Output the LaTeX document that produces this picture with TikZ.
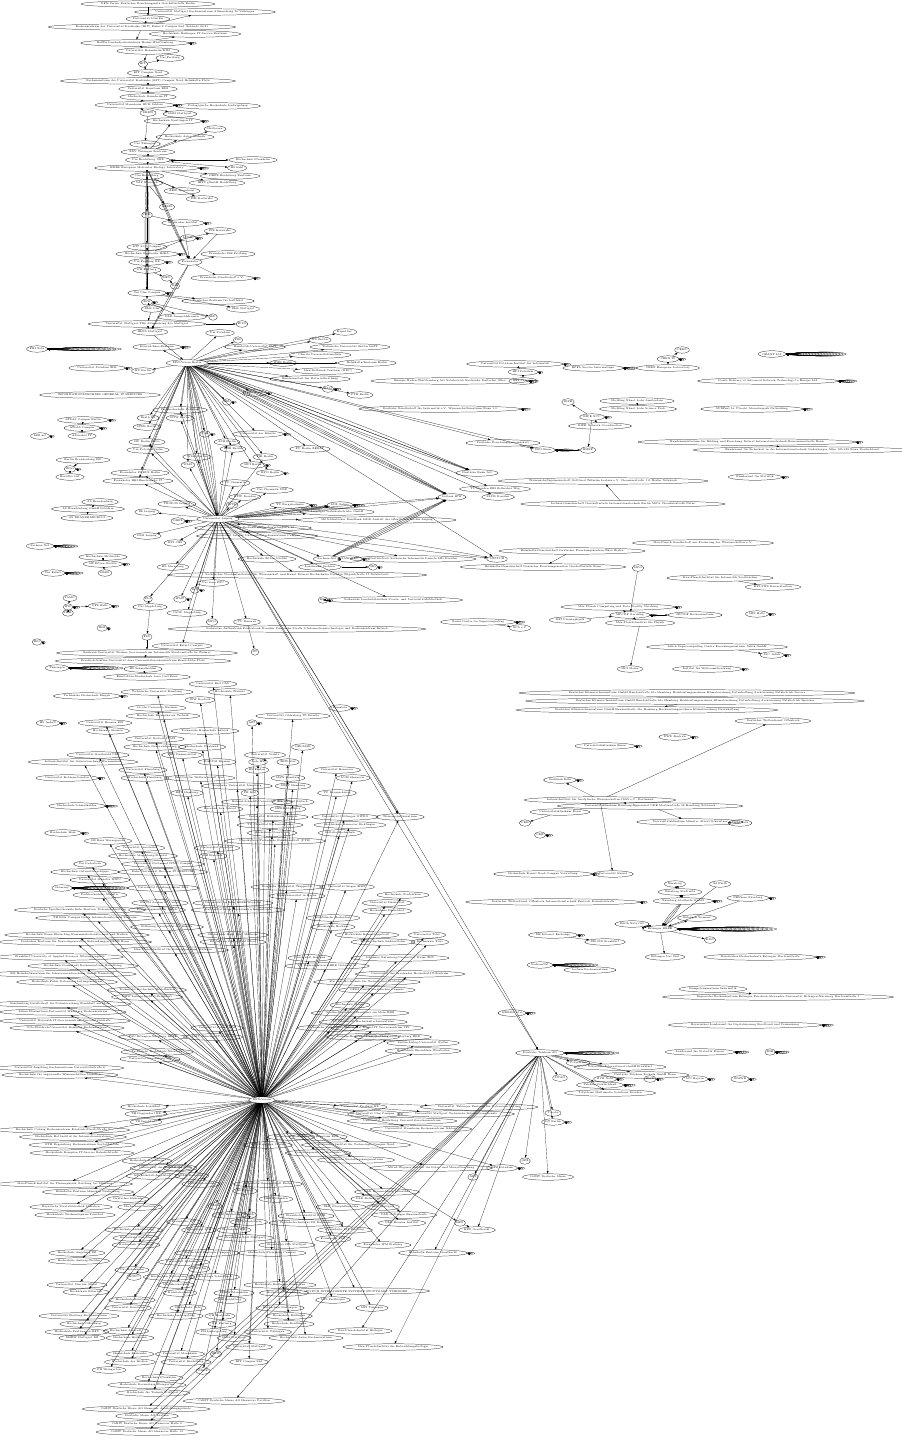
\documentclass[tikz,border=0pt]{standalone}
\usepackage{fontspec}
\usetikzlibrary{shapes.geometric,arrows.meta}
\tikzset{
  org/.style={draw, ellipse, line width=0.2pt, inner xsep=0.2pt, inner ysep=0.3pt,
    minimum height=5.5pt, font=\fontsize{2.2}{2.5}\selectfont},
  link/.style={-{Latex[length=2.2pt,width=1.5pt]}, line width=0.16pt},
}
% stack of self loops on the east side of a node
\newcommand{\selfloops}[3]{\foreach \k in {1,...,#2}{
  \draw[link] (#1.east) .. controls +(#3*\k,-2-0.25*\k) and +(#3*\k,2+0.25*\k) .. (#1.east);}}
% several parallel edges
\newcommand{\multilink}[3]{\foreach \b in {#3}{\draw[link] (#1) to[bend left=\b] (#2);}}
\begin{document}
\begin{tikzpicture}[x=0.03cm,y=-0.03cm]
\useasboundingbox (0,0) rectangle (901,1440);
\fill[white] (0,0) rectangle (901,1440);

% top column
\foreach \n/\x/\y/\t in {
  t1/148/4/{DFN-Verein Deutsches Forschungsnetz Geschäftsstelle Berlin},
  t2/205/12/{Universität Stuttgart Rechenzentrum Allmandring 30 Vaihingen},
  t3/148/19/{Universität Ulm kiz},
  t4/142/27/{Rechenzentrum der Universität Karlsruhe (KIT) Zirkel 2 Campus Süd Gebäude 20.21},
  t5/195/34/{Hochschule Esslingen IT-Service Zentrum},
  t6/135/43/{BelWü Landeshochschulnetz Baden-Württemberg},
  t7/148/51/{Universität Hohenheim KIM},
  t8/170/58/{Uni Freiburg},
  t9/143/64/{HfT},
  t10/148/73/{KIT Campus Nord},
  t11/148/81/{Rechenzentrum der Universität Karlsruhe (KIT) Campus Nord Helmholtz-Platz},
  t12/148/89/{Universität Konstanz KIM},
  t13/148/97/{Hochschule Mannheim IT},
  t14/135/105/{Universität Mannheim RUM Schloss},
  t15/148/113/{DHBW},
  t16/180/114/{HdM Stuttgart},
  t17/218/106/{Pädagogische Hochschule Ludwigsburg},
  u1/173/121/{Hochschule Reutlingen IT},
  u2/215/129/{Heilbronn},
  u3/185/137/{Hochschule Aalen Technik},
  u4/145/144/{Uni Tübingen},
  u5/148/152/{ZDV Tübingen Zentrum},
  u6/148/160/{Uni Heidelberg URZ},
  u7/253/160/{Hochschule Pforzheim},
  u8/237/168/{HS Kehl},
  u9/147/168/{EMBL European Molecular Biology Laboratory},
  u10/230/176/{DKFZ Heidelberg Zentrum},
  u11/217/183/{HITS gGmbH Heidelberg},
  u12/147/176/{Uni Heidelberg},
  u13/147/183/{SAP Research},
  u14/182/191/{ZEW Mannheim},
  u15/202/199/{FZI Karlsruhe},
  u16/167/207/{GESIS},
  u17/147/215/{IWR},
  u18/183/223/{Karlsruher Institut},
  u19/188/238/{LUBW},
  u20/220/231/{FIZ Karlsruhe},
  u21/147/247/{KIT SCC Campus},
  u22/147/254/{Hochschule Karlsruhe HsKA},
  u23/147/262/{Uni Freiburg RZ},
  u24/147/270/{PH Freiburg},
  u25/190/262/{Fraunhofer},
  u26/228/254/{Fraunhofer ISE Freiburg},
  u27/167/278/{HFU},
  u28/175/286/{KIZ},
  u29/222/278/{Fraunhofer-Gesellschaft e.V.},
  u30/147/293/{Uni Ulm Campus},
  u31/147/302/{ZSW},
  u32/152/309/{DLR Ulm},
  u33/218/301/{Deutsches Zentrum für Luftfahrt},
  u34/243/309/{DLR Stuttgart},
  u35/213/317/{ZfP},
  u36/182/317/{DLR Lampoldshausen},
  u37/147/324/{Universität Stuttgart TIK Allmandring 30a Stuttgart},
  u38/345/332/{Rapid Inc.},
  u39/150/332/{HLRS Stuttgart},
  u40/242/324/{IPVS}}
  \node[org] (\n) at (\x,\y) {\t};

\foreach \a/\b in {t1/t3,t3/t4,t4/t6,t6/t7,t7/t9,t9/t10,t10/t11,t11/t12,t12/t13,t13/t14,
  t14/t15,t15/u4,u4/u5,u5/u6,u6/u9,u9/u12,u12/u13,u13/u17,u17/u21,u21/u22,u22/u23,u23/u24,
  u24/u30,u30/u31,u31/u32,u32/u37,u37/u39,t4/t2,t6/t5,t9/t8,t14/t16,t14/t17,u5/u1,u5/u2,
  u5/u3,u6/u7,u6/u8,u9/u10,u9/u11,u12/u14,u12/u15,u13/u16,u17/u18,u21/u20,u22/u19,u25/u26,
  u25/u29,u24/u27,u27/u28,u30/u33,u30/u34,u31/u35,u31/u36,u37/u40,u18/u25,u20/u25}
  \draw[link] (\a) -- (\b);
\multilink{u9}{u30}{-3,-1.5,1.5,3}
\multilink{u9}{u25}{-2,0,2}
\multilink{u25}{u39}{-2,2}

% first hub
\node[org] (hubA) at (187,363) {DFN-Verein Berlin};
\draw[link] (u39) -- (hubA);
\foreach \n/\x/\y/\t in {
  a1/220/333/{Uni Potsdam}, a2/238/340/{PIK}, a3/255/347/{Humboldt-Universität CMS},
  a4/320/340/{FU Berlin}, a6/350/347/{Technische Universität Berlin tubIT},
  a7/320/355/{Charité Universitätsmedizin}, a8/283/363/{WZB Berlin},
  a9/367/363/{Helmholtz-Zentrum Berlin}, a10/328/371/{Max-Delbrück-Centrum (MDC)},
  a11/310/379/{Bundesanstalt für Materialforschung}, a12/328/389/{BAM},
  a13/360/395/{PTB Berlin}, a14/157/347/{Konrad-Zuse-Zentrum}, a17/143/371/{HU Berlin},
  a19/227/402/{ZIB}, a20/255/393/{ZIB Berlin}, a21/180/410/{Fachhochschule Potsdam},
  a22/180/418/{HTW Berlin}, a23/148/418/{Beuth HS}, a24/147/427/{HWR Berlin},
  a25/258/434/{Universität der Künste}, a26/205/434/{UdK}, a27/227/442/{ASH Berlin},
  a28/233/449/{EHB Berlin}, a29/310/449/{FU Berlin ZEDAT}, a30/147/442/{HU Berlin Mitte},
  a31/148/450/{Uni Potsdam Golm}, a32/265/457/{FHI Berlin}, a33/253/465/{MPI Berlin},
  a34/270/473/{MPG Berlin}, a35/197/457/{WIAS Berlin}, a36/188/465/{WIAS},
  a37/140/473/{Fraunhofer FOKUS Berlin}, a38/138/481/{Fraunhofer HHI Einsteinufer 37},
  a41/477/473/{Deutsche Bahn AG}, a42/495/489/{TU Dresden ZIH Zellescher Weg},
  a43/498/497/{SLUB Dresden}, a44/452/497/{Leibniz IFW}}{
  \node[org] (\n) at (\x,\y) {\t};
  \draw[link] (hubA) -- (\n);}
\draw[link] (hubA) -- (u38);
\multilink{hubA}{a41}{-2,0,2}
\multilink{hubA}{a44}{-3,-1,1,3}

% second hub
\node[org] (hubB) at (218,519) {Universität Leipzig};
\multilink{hubA}{hubB}{-8,-5,-2,2,5,8}
\foreach \n in {a21,a22,a27,a28,a30,a31,a32,a35,a36,a37,a38}
  \draw[link] (hubB) -- (\n);
\foreach \n/\x/\y/\t in {
  b10/147/512/{IfL Leipzig}, b11/177/504/{TROPOS Leipzig}, b12/178/521/{DBFZ},
  b13/147/536/{IOM Leipzig}, b14/175/543/{MPI CBS}, b20/173/567/{HS Merseburg},
  b21/213/583/{Uni Jena FSU}, b22/195/590/{IPB}, b23/180/599/{IPHT}, b24/148/599/{FLI},
  b26/187/613/{OvGU Magdeburg}, b34/212/622/{MPG}, b35/247/622/{TU Ilmenau},
  b38/182/646/{Universität Erfurt Campus},
  b46/253/528/{Universität Leipzig Rechenzentrum Augustusplatz 10},
  b47/257/536/{Universität Leipzig Universitätsrechenzentrum Campus},
  b48/340/505/{LVZ Online}, b49/337/512/{Leipziger Verkehrsbetriebe GmbH},
  b50/377/520/{Mitteldeutscher Rundfunk MDR Anstalt des öffentlichen Rechts Leipzig},
  b51/327/559/{Sachsen-Net}, b53/413/559/{Staatsbetrieb Sächsische Informatik Dienste SID Dresden},
  b54/320/567/{Landesamt Sachsen}, b56/267/559/{Hochschule Zittau Görlitz},
  b59/393/600/{Sächsische Landesbibliothek Staats- und Universitätsbibliothek},
  b61/297/575/{Sächsisches Staatsministerium für Wissenschaft und Kunst Referat Hochschulen Dresden Wigardstraße 17 Netzbetrieb},
  b64/235/483/{TU Chemnitz}, b65/272/490/{Uni Chemnitz URZ}, b66/245/497/{HTW Dresden},
  b67/290/505/{TU Bergakademie}, b68/232/505/{HfTL}}{
  \node[org] (\n) at (\x,\y) {\t};
  \draw[link] (hubB) -- (\n);}
\foreach \n/\x/\y/\t in {
  b25/150/607/{Uni Magdeburg}, b33/147/637/{FSU},
  b36/147/653/{Bauhaus-Universität Weimar Servicezentrum Informatik Steubenstraße 6a Weimar},
  b37/143/661/{Friedrich-Schiller-Universität Jena Universitätsrechenzentrum Ernst-Abbe-Platz},
  b40/143/669/{HS Schmalkalden}, b41/147/677/{Ernst-Abbe-Hochschule Jena Carl-Zeiss},
  b42/255/652/{IfT}, b52/350/559/{SAXONET}, b55/373/567/{SID}, b58/323/600/{KSS},
  b60/297/629/{Sächsische Aufbaubank Förderbank Dresden Pirnaische Straße 9 Informationstechnologie und Rechenzentrum Betrieb}}
  \node[org] (\n) at (\x,\y) {\t};
\foreach \a/\b in {b24/b25,b25/b33,b33/b36,b36/b37,b40/b41,b51/b52,b54/b55,b58/b59,b35/b42}
  \draw[link] (\a) -- (\b);
\multilink{b51}{a44}{-3,-1,1,3}
\multilink{hubB}{a44}{-1,1}

% small groups on the left
\foreach \n/\x/\y/\t in {
  a15/37/349/{FBI Netz}, a16/97/368/{Universität Potsdam ZIM},
  a18/100/395/{INFORMATIONSTECHNIK GENERAL IT SERVICES},
  k1/83/420/{ATLAS Campus Berlin}, k2/82/428/{ATLAS Campus}, k3/82/436/{Adlershof IT},
  k4/40/436/{LRZ net}, k5/83/460/{Berlin Brandenburg ISP}, k6/70/469/{BNet},
  k7/70/477/{BerliNet Ost}, k8/100/502/{AS Brandenburg}, k9/88/509/{AS Brandenburg GmbH Potsdam},
  k10/87/518/{AS BRANDENBURG-2}, k11/40/546/{Sachsen Net}, k12/103/557/{Hochschule Mittweida},
  k13/103/564/{HS Zittau-Görlitz}, k14/105/573/{HSZG}, k15/53/573/{Uni Erfurt},
  k16/70/598/{IAMO}, k17/68/607/{IPK}, k18/100/606/{UFZ Halle}, k19/68/613/{IWH},
  k20/102/628/{HfM}, k21/37/642/{HfG}, k22/57/668/{Thüringen},
  k23/87/696/{Technische Hochschule Bingen}, k24/48/723/{HS Anhalt},
  k25/67/778/{Universität Koblenz-Landau}, k26/77/806/{Hochschule Schmalkalden},
  k27/63/833/{Hochschule Harz}, k28/62/888/{Germany}, k29/340/708/{Ramstein}}
  \node[org] (\n) at (\x,\y) {\t};
\foreach \a/\b in {k1/k2,k2/k3,k5/k6,k6/k7,k9/k8,k9/k10,k12/k13,k13/k14,k16/k17,k17/k19,k17/k18}
  \draw[link] (\a) -- (\b);

% right upper groups
\foreach \n/\x/\y/\t in {
  s1/515/364/{Universität Potsdam Institut für Informatik}, s2/523/372/{HPI Potsdam},
  s3/523/381/{HPI Campus}, s4/593/368/{EPFL Service Informatique},
  s5/682/350/{CERN}, s6/668/359/{CERN IT}, s7/668/368/{CERN European Laboratory},
  s8/772/354/{GÉANT Ltd},
  s9/768/381/{Dante Delivery of Advanced Network Technology to Europe Ltd},
  s10/450/381/{Energie Baden-Württemberg AG Netzbetrieb Karlsruhe Durlacher Allee},
  s11/568/402/{RIPE}, s12/592/417/{RIPE NCC}, s13/600/426/{RIPE Network Coordination},
  s14/637/401/{Stichting NLnet Labs Amsterdam}, s15/638/409/{Stichting NLnet Labs Science Park},
  s16/752/409/{SURFnet bv Utrecht Moreelsepark Networking},
  s17/440/409/{Deutsche Gesellschaft für Informatik e.V. Wissenschaftszentrum Bonn 1.0},
  s18/503/443/{Deutsche Forschungsgemeinschaft}, s19/543/450/{DFG Bonn}, s20/588/450/{BMBF},
  s21/747/442/{Bundesministerium für Bildung und Forschung Referat Informationstechnik Heinemannstraße Bonn},
  s22/802/450/{Bundesamt für Sicherheit in der Informationstechnik Godesberger Allee 185-189 Bonn Deutschland},
  s23/755/477/{Bundesamt für Statistik},
  s25/603/481/{Wissenschaftsgemeinschaft Gottfried Wilhelm Leibniz e.V. Chausseestraße 111 Berlin Netzwerk},
  s26/623/504/{Leibniz-Gemeinschaft Geschäftsstelle Informationstechnik Berlin Mitte Chausseestraße Netze},
  s29/572/551/{Helmholtz-Gemeinschaft Deutscher Forschungszentren Büro Berlin},
  s30/543/567/{Helmholtz-Gemeinschaft Deutscher Forschungszentren Geschäftsstelle Bonn},
  s31/703/543/{Max-Planck-Gesellschaft zur Förderung der Wissenschaften e.V.},
  s32/497/559/{SWITCH}, s33/638/568/{MPG},
  s34/720/578/{Max-Planck-Institut für Informatik Saarbrücken}, s35/773/587/{MPI-SWS Kaiserslautern},
  s36/618/607/{Max Planck Computing and Data Facility Garching}, s37/630/615/{MPCDF Garching},
  s38/695/615/{MPCDF Rechenzentrum}, s39/570/620/{MPI Plasmaphysik},
  s40/640/623/{Max-Planck-Institut für Physik}, s41/757/614/{MPI Halle},
  s42/478/622/{Gauss Centre for Supercomputing}, s43/520/628/{GCS e.V.},
  v1/717/647/{Jülich Supercomputing Centre Forschungszentrum Jülich GmbH},
  v2/772/655/{JSC Jülich}, v3/630/669/{MPI Mainz}, v4/707/669/{Institut für Weltraumforschung},
  v5/687/693/{Deutsches Klimarechenzentrum GmbH Bundesstraße 45a Hamburg Hochleistungsrechnen Klimaforschung Datenhaltung Archivierung Netzbetrieb Service},
  v6/695/701/{Deutsches Klimarechenzentrum GmbH Bundesstraße 45a Hamburg Hochleistungsrechnen Klimaforschung Datenhaltung Archivierung Netzbetrieb Speicher},
  v7/647/710/{Deutsches Klimarechenzentrum GmbH Bundesstraße 45a Hamburg Hochleistungsrechnen Klimaforschung Datenhaltung},
  v8/773/721/{Deutscher Wetterdienst Offenbach}, v9/675/737/{DWD Zentrale},
  v10/605/746/{Universitätsklinikum Essen},
  w1/600/800/{Leibniz-Institut für Analytische Wissenschaften ISAS e.V. Dortmund},
  w2/560/780/{Uniklinik Köln}, w3/650/806/{Universitätsklinikum Hamburg-Eppendorf UKE Martinistraße 52 Hamburg Netzwerk},
  w4/560/812/{Universitätsklinikum Bonn}, w5/525/823/{UKB}, w6/690/822/{Universitätsklinikum Münster Albert-Schweitzer},
  w7/740/823/{UKM Netz}, w8/540/835/{UKE},
  x0/543/874/{Hochschule Kassel Nord Campus Verwaltung}, x1/613/874/{Universität Kassel},
  x2/553/902/{Deutscher Wetterdienst Offenbach Informationstechnik Zentrale Kaiserleistraße},
  x3/553/935/{DE Internet Exchange}, x4/605/942/{DE-CIX Frankfurt},
  x5/540/965/{SachsenNet}, x6/590/970/{Leibniz Rechenzentrum}, e8/512/1013/{KRRDN Ltd}}
  \node[org] (\n) at (\x,\y) {\t};
\foreach \a/\b in {s1/s2,s2/s3,s6/s5,s6/s7,s12/s11,s12/s13,s12/s20,s14/s15,s18/s19,s19/s20,
  s21/s22,s26/s25,s29/s30,s33/s37,s37/s38,s37/s40,s39/s37,s42/s43,s34/s35,s40/v3,v1/v2,v6/v7,
  w1/v8,w1/w2,w1/w3,w3/w6,w6/w7,w4/w5,w1/x1,x3/x4,s37/s36}
  \draw[link] (\a) -- (\b);
\foreach \n in {s18,s19,s32} \draw[link] (hubA) -- (\n);
\multilink{hubB}{s32}{-2,2}
\multilink{hubB}{b48}{-3,-1,1,3}

% third hub with its fan
\node[org] (hubC) at (262,1100) {DFN-Verein};
\foreach \n/\x/\y/\t in {
  c1/157/692/{Technische Universität Hamburg}, c2/213/684/{Universität Kiel CAU},
  c3/230/692/{Hochschule Wismar}, c4/200/700/{IOW Rostock}, c5/105/723/{Universität Bremen ZfN},
  c6/108/731/{Hochschule Bremen}, c7/157/708/{Jacobs University Bremen},
  c8/163/716/{Hochschule Bremerhaven Technik}, c9/293/716/{Universität Oldenburg IT-Dienste},
  c10/205/731/{Technische Hochschule Lübeck}, c11/252/723/{AWI},
  c12/98/755/{Universität Greifswald URZ}, c13/83/762/{Leibniz-Institut für Ostseeforschung Warnemünde},
  c14/155/739/{Universität Rostock ITMZ}, c15/155/747/{Hochschule Neubrandenburg},
  c16/202/747/{Hochschule Stralsund}, c17/182/755/{FBN Dummerstorf}, c18/217/762/{MARUM Bremen},
  c19/265/755/{Universität Vechta}, c20/258/762/{Jade HS}, c21/257/770/{HS Emden},
  c22/303/747/{GEOMAR}, c23/288/762/{ZBW Kiel}, c24/143/770/{Universität Flensburg},
  c25/145/778/{Hochschule Flensburg}, c26/200/778/{Institut für Weltwirtschaft Kiel},
  c27/237/786/{Leuphana Universität Lüneburg}, c28/288/778/{HAW Hamburg}, c29/293/786/{DESY Hamburg},
  c30/187/793/{HCU Hamburg}, c31/250/793/{FH Kiel}, c32/257/802/{Helmut-Schmidt-Universität HH},
  c33/293/802/{Universität Lübeck}, c34/220/809/{Bucerius Law School}, c35/288/809/{HFBK Hamburg},
  c36/337/770/{Universität Hannover}, c37/353/778/{LUIS Hannover}, c38/337/793/{TU Braunschweig},
  c39/345/817/{Universität Göttingen GWDG}, c40/350/825/{Hochschule Hannover Ricklingen},
  c41/340/833/{Ostfalia Hochschule}, c42/400/817/{Wissenschaftszentrum},
  c43/273/817/{Universität Hildesheim Campus}, c44/270/825/{TU Clausthal Rechenzentrum},
  c45/272/833/{Hochschule Osnabrück}, c46/275/841/{Physikalisch-Technische Bundesanstalt (PTB)},
  c47/108/841/{HS Harz Wernigerode}, c48/140/848/{Universität Osnabrück},
  c49/143/856/{Hochschule Magdeburg-Stendal}, c50/217/848/{Universität Bielefeld},
  c51/213/856/{FH Bielefeld}, c52/90/864/{Uni Paderborn}, c53/85/872/{Hochschule Ostwestfalen-Lippe},
  c54/100/880/{Universität Münster WWU}, c55/100/895/{Fachhochschule Münster},
  c56/163/864/{Universität Dortmund ITMC Campus}, c57/163/872/{Ruhr-Universität Bochum IT.SERVICES},
  c58/163/888/{Universität Duisburg-Essen ZIM}, c59/233/903/{Universität zu Köln RRZK Weyertal},
  c60/238/910/{Universität Bonn Hochschulrechenzentrum}, c61/160/903/{RWTH Aachen IT Center},
  c62/157/910/{Forschungszentrum Jülich}, c63/287/887/{Bergische Universität Wuppertal},
  c64/297/896/{FernUniversität in Hagen}, c65/347/887/{Universität Siegen ZIMT},
  c66/403/895/{Hochschule Niederrhein}, c67/387/903/{Universität Düsseldorf},
  c68/387/911/{Hochschule Düsseldorf}, c69/333/918/{Westfälische Hochschule},
  c70/333/927/{Hochschule Bochum},
  c71/80/910/{Deutsche Sporthochschule Köln Zentrale Datenverarbeitung},
  c72/95/918/{TH Köln Campus Deutz Informationstechnik Zentrum},
  c73/77/935/{Hochschule Bonn-Rhein-Sieg Kommunikationstechnik und Medien},
  c74/75/942/{Deutsches Zentrum für Neurodegenerative Erkrankungen DZNE Bonn},
  c75/167/927/{Folkwang Universität der Künste}, c76/233/935/{Hochschule Ruhr West Mülheim},
  c77/233/942/{Hochschule Rhein-Waal Kleve}, c78/173/950/{Max-Planck-Institut für Kohlenforschung Mülheim},
  c79/367/935/{Hochschule Hamm-Lippstadt}, c80/383/942/{Fachhochschule Südwestfalen},
  c81/427/935/{Universität Trier}, c82/430/942/{Hochschule Trier}, c83/310/958/{Universität Koblenz},
  c84/327/966/{TU Kaiserslautern RHRK Gebäude 32}, c85/400/958/{Johannes Gutenberg-Universität Mainz ZDV},
  c86/410/974/{Universität des Saarlandes Hochschul-IT-Zentrum},
  c87/367/982/{htw saar Hochschule für Technik und Wirtschaft}, c88/377/990/{DFKI GmbH Saarbrücken Campus},
  c89/350/1005/{Hochschule Mainz}, c90/360/1013/{Goethe-Universität Frankfurt am Main HRZ},
  c91/363/1022/{TU Darmstadt Hochschulrechenzentrum}, c92/377/1028/{Universität Kassel IT Servicezentrum ITS},
  c93/393/1037/{Philipps-Universität Marburg HRZ}, c94/423/1043/{Justus-Liebig-Universität Gießen},
  c95/423/1051/{Hochschule RheinMain Wiesbaden},
  c96/60/957/{Frankfurt University of Applied Sciences Nibelungenplatz},
  c97/83/966/{Hochschule Darmstadt Rechenzentrum Haardtring},
  c98/62/974/{GSI Helmholtzzentrum für Schwerionenforschung GmbH Darmstadt},
  c99/67/982/{Hochschule Fulda Datenverarbeitungszentrum},
  c100/147/990/{Technische Hochschule Mittelhessen}, c101/147/997/{DIPF Leibniz-Institut Frankfurt},
  c102/60/1004/{Senckenberg Gesellschaft für Naturforschung Frankfurt am Main},
  c103/63/1012/{Julius-Maximilians-Universität Würzburg Rechenzentrum},
  c104/65/1021/{Universität Bayreuth IT-Servicezentrum Universitätsstraße},
  c105/67/1028/{Otto-Friedrich-Universität Bamberg Rechenzentrum},
  c106/153/1037/{FAU Erlangen-Nürnberg RRZE}, c107/157/1052/{Technische Hochschule Nürnberg},
  c108/150/1059/{Universität Regensburg RZ}, c109/217/1028/{Universität Passau ZIM},
  c110/213/1037/{LMU München IT-Services}, c111/333/1028/{Technische Universität München},
  c112/363/1037/{Leibniz-Rechenzentrum Garching},
  c113/60/1068/{Universität Augsburg Rechenzentrum Universitätsstraße 8},
  c114/60/1075/{Hochschule für angewandte Wissenschaften München}}{
  \node[org] (\n) at (\x,\y) {\t};
  \draw[link] (hubC) -- (\n);}
\foreach \n/\x/\y/\t in {
  d1/63/1130/{Hochschule Coburg Rechenzentrum Friedrich-Streib-Straße 2},
  d2/73/1137/{Hochschule Hof Institut für Informationssysteme},
  d3/82/1145/{OTH Regensburg Rechenzentrum Seybothstraße},
  d4/82/1153/{Hochschule Kempten IT-Service Bahnhofstraße},
  d5/144/1107/{Hochschule Landshut}, d6/146/1114/{TH Deggendorf RZ}, d7/146/1122/{TH Ingolstadt},
  d8/147/1161/{Hochschule Rosenheim}, d9/161/1168/{Universität der Bundeswehr},
  d10/153/1176/{KU Eichstätt-Ingolstadt},
  d11/65/1184/{Max-Planck-Institut für Plasmaphysik Garching bei München},
  d12/88/1192/{Helmholtz Zentrum München Neuherberg}, d13/128/1199/{Deutsches Museum},
  d14/71/1207/{Bayerische Staatsbibliothek München}, d15/75/1215/{Hochschule Weihenstephan-Triesdorf},
  d16/140/1207/{Hochschule Ansbach}, d17/134/1230/{Hochschule Aschaffenburg},
  d18/136/1238/{Hochschule Neu-Ulm}, d19/136/1245/{Hochschule Würzburg},
  d20/77/1253/{Hochschule Augsburg RZ}, d21/79/1261/{Hochschule Amberg-Weiden},
  d22/132/1270/{Uni Hohenheim}, d23/134/1277/{HfWU}, d24/77/1285/{Universität Ulm kiz Albert},
  d25/86/1292/{Hochschule Biberach}, d26/79/1316/{Universität Freiburg Rechenzentrum},
  d27/84/1324/{Hochschule Offenburg}, d28/77/1332/{Hochschule Furtwangen HFU},
  d29/82/1338/{DHBW Stuttgart RZ}, d30/132/1300/{Hochschule Konstanz},
  d31/128/1308/{Universität Konstanz}, d32/126/1331/{Hochschule Albstadt},
  d33/130/1338/{Hochschule Heilbronn}, d34/130/1354/{Hochschule Karlsruhe},
  d35/130/1362/{Hochschule der Medien}, d36/109/1370/{PH Weingarten},
  d37/159/1378/{Hochschule Pforzheim}, d38/147/1385/{Hochschule Ravensburg-Weingarten},
  d39/153/1393/{Hochschule für Technik Stuttgart}, d45/180/1354/{Universität Mannheim},
  d46/186/1362/{Universität Heidelberg}, d47/216/1354/{ZEW}, d48/203/1371/{DKFZ},
  d49/249/1362/{KIT Campus Süd}, d50/234/1338/{HdM Stuttgart}, d51/249/1347/{Universität Stuttgart},
  d52/268/1332/{Universität Tübingen}, d53/289/1324/{Hochschule Reutlingen},
  d54/289/1316/{Hochschule Esslingen}, d55/280/1308/{Hochschule Nürtingen},
  d56/306/1338/{Hochschule Aalen Rechenzentrum}, d57/280/1285/{Hochschule Heilbronn Künzelsau},
  d58/284/1293/{Hochschule Mannheim}, d59/234/1293/{DHBW Mannheim}, d60/230/1300/{PH Heidelberg},
  d61/220/1316/{PH Karlsruhe}, d62/222/1324/{PH Freiburg}, d63/214/1332/{PH Ludwigsburg},
  d64/188/1308/{Hochschule Kehl}, d65/176/1316/{Hochschule Ludwigsburg}, d66/176/1285/{Musikhochschule},
  d67/180/1293/{Kunstakademie}, d68/169/1277/{Hochschule Rottenburg}, d69/214/1277/{Hochschule Schwäbisch},
  d70/199/1269/{ZSW Ulm}, d71/184/1262/{Universität Hohenheim}, d72/207/1253/{Hochschule Biberach Campus},
  d73/272/1253/{Hochschule Pforzheim Campus}, d74/287/1245/{Fraunhofer IPA Stuttgart},
  d75/245/1238/{Fraunhofer IAO Stuttgart}, d76/234/1230/{Fraunhofer IBP}, d77/199/1230/{Fraunhofer IGB},
  d78/184/1222/{Fraunhofer ICT}, d79/306/1216/{Fraunhofer-Institut IOSB},
  d80/306/1223/{Fraunhofer-Institut ISI Karlsruhe}, d81/345/1230/{Fraunhofer IAF Freiburg},
  d82/333/1239/{Fraunhofer EMI}, d83/383/1245/{Fraunhofer IPM Freiburg},
  d84/356/1291/{MPI FÜR INTELLIGENTE SYSTEME STUTTGART TÜBINGEN}, d85/333/1300/{MPI Festkörper},
  d86/372/1308/{MPI Tübingen}, d89/341/1207/{DLR Oberpfaffenhofen},
  d90/387/1192/{DLR Braunschweig Lilienthal}, d91/368/1199/{DLR Köln-Porz},
  d92/404/1215/{DLR Göttingen Bunsenstraße}, d93/402/1223/{DLR Bremen Institut},
  d94/268/1184/{Helmholtz-Gemeinschaft Berlin}, d95/245/1191/{HGF Bonn}, d96/276/1199/{HZDR Dresden},
  d97/431/1168/{Alfred-Wegener-Institut für Polar- und Meeresforschung},
  d100/502/1168/{GFZ Potsdam}, d103/460/1223/{HZG},
  d106/318/1153/{Forschungszentrum Karlsruhe},
  d107/356/1145/{Karlsruher Institut für Technologie Campus Nord},
  d108/356/1160/{Deutsches Krebsforschungszentrum},
  d109/402/1121/{Universität Heidelberg Universitätsrechenzentrum},
  d110/421/1129/{Universität Mannheim Rechenzentrum Schloss},
  d111/456/1114/{Universität Stuttgart Technische Informationsdienste},
  d112/479/1107/{Universität Tübingen Zentrum für Datenverarbeitung},
  d115/360/1107/{Universität Freiburg RZ}, d116/375/1114/{Universität Ulm Campus},
  d117/318/1137/{Universität Konstanz KIM}, d118/268/1145/{KIT Steinbuch Centre},
  d119/291/1137/{Hochschule Karlsruhe}, d120/383/1207/{DLR Stuttgart}, d121/201/1184/{LUBW Karlsruhe},
  d122/192/1176/{BLB Karlsruhe}, d123/180/1168/{WLB Stuttgart}, d124/215/1206/{HLRS},
  d125/230/1215/{IWR Heidelberg}, d126/249/1215/{EMBL}, d127/249/1222/{HITS Heidelberg}}{
  \node[org] (\n) at (\x,\y) {\t};
  \draw[link] (hubC) -- (\n);}

% fourth hub
\node[org] (hubD) at (540,1053) {Deutsche Telekom AG};
\multilink{hubB}{hubD}{-1,1}
\multilink{hubB}{c42}{-1,1}
\foreach \n/\x/\y/\t in {
  d40/146/1409/{CeBIT Deutsche Messe AG Hannover Ausstellungsgelände},
  d41/147/1416/{Deutsche Messe AG Laatzen}, d42/147/1424/{CeBIT Deutsche Messe AG Hannover Halle 9},
  d43/147/1432/{CeBIT Deutsche Messe AG Hannover Halle 13},
  d44/234/1401/{CeBIT Deutsche Messe AG Hannover Pavillon},
  d87/360/1331/{Max-Planck-Institut Biologie},
  d88/393/1347/{Max-Planck-Institut für Entwicklungsbiologie},
  d99/525/1161/{GFZ}, d101/473/1177/{AWI}, d102/548/1177/{CeBIT Deutsche Messe},
  d104/477/1230/{HZG Geesthacht}, d105/433/1253/{Helmholtz-Zentrum Geesthacht},
  e2/578/1063/{T-Systems}, e3/620/1067/{T-Systems International GmbH Frankfurt},
  e4/645/1075/{Deutsche Telekom Technik GmbH Bonn}, e5/560/1078/{DTAG},
  e6/600/1085/{Telekom Deutschland}, e7/610/1093/{T-Systems Multimedia Solutions Dresden},
  e9/553/1113/{T-Labs}, e10/553/1122/{DT Berlin}}{
  \node[org] (\n) at (\x,\y) {\t};
  \draw[link] (hubD) -- (\n);}
\draw[link] (d103) -- (d104);

% fifth hub and right side
\node[org] (hubE) at (660,929) {Erlangen RRZE};
\foreach \n/\x/\y/\t in {
  y1/675/884/{Nürnberg}, y2/720/884/{Ad Fürth}, y3/680/892/{Nürnberg Stadtnetz},
  y4/683/901/{Nürnberg Stadtnetz GmbH}, y5/748/898/{NEFkom Nürnberg}, y6/632/924/{Fürth Netz Ost},
  y7/697/918/{Erlangen Siemens}, y8/710/940/{KDN}, y10/665/957/{Erlangen Uni Süd},
  y11/760/957/{Bayerisches Hochschulnetz Erlangen Martensstraße},
  z1/713/989/{Kompetenzzentrum Informatik},
  z2/778/997/{Regionales Rechenzentrum Erlangen Friedrich-Alexander-Universität Erlangen-Nürnberg Martensstraße 1},
  z3/745/1025/{Bayerisches Landesamt für Digitalisierung Breitband und Vermessung},
  z4/700/1052/{Landesamt für Statistik Bayern}, z5/770/1052/{BSB},
  z6/605/1079/{BVB Netz}, z7/650/1079/{BLfD}, z8/695/1079/{LfU Bayern}, z9/740/1079/{StMWK}}
  \node[org] (\n) at (\x,\y) {\t};
\foreach \a/\b in {y2/hubE,y5/hubE,hubE/y7,hubE/y8,hubE/y10,z1/z2}
  \draw[link] (\a) -- (\b);
\multilink{y1}{y3}{-8,8}
\multilink{y3}{y4}{-10,0,10}
\multilink{y4}{hubE}{-8,0,8}
\multilink{hubE}{y6}{-6,-2,2,6}

% self loops
\foreach \n/\c/\s in {a15/14/7,a16/3/3,a12/3/3,a14/4/3,a19/2/3,a20/2/3,a25/3/3,a26/2/3,a33/2/3,
  a34/2/3,t6/3/3,t14/3/3,u1/3/3,u6/2/3,u9/4/3,u18/3/3,u19/3/3,u22/3/3,u23/3/3,u29/3/3,u30/3/3,
  u31/2/3,b12/3/3,b22/2/3,b23/2/3,b48/5/3,b52/3/3,b55/2/3,b58/2/3,b67/3/3,k1/3/3,k2/3/3,k4/2/3,
  k6/2/3,k11/8/4,k13/3/3,k15/6/4,k17/3/3,k18/3/3,k20/2/2,k21/2/2,k22/12/6,k23/3/3,k24/3/3,
  k25/3/3,k26/4/4,k27/3/3,k28/15/5,k29/3/3,s1/3/3,s2/2/3,s4/6/3,s6/3/3,s8/20/4,s9/8/3,s10/4/3,
  s12/3/3,s16/4/3,s17/4/3,s19/6/4,s21/3/3,s23/3/3,s36/3/3,s37/3/3,s41/3/3,s42/4/3,v2/3/3,v4/3/3,
  v9/3/3,v10/3/3,w2/3/3,w8/3/3,x0/3/3,x2/3/3,x3/3/3,x5/12/5,e8/4/3,hubD/12/6,e6/5/3,e10/3/3,
  d100/3/3,d105/3/3,hubE/22/6,y4/4/3,y5/3/3,y11/4/3,z3/5/3,z4/6/3,z5/6/3,z6/3/3,z7/3/3,z8/3/3,
  z9/3/3,c11/2/3}
  \selfloops{\n}{\c}{\s};
\end{tikzpicture}
\end{document}
